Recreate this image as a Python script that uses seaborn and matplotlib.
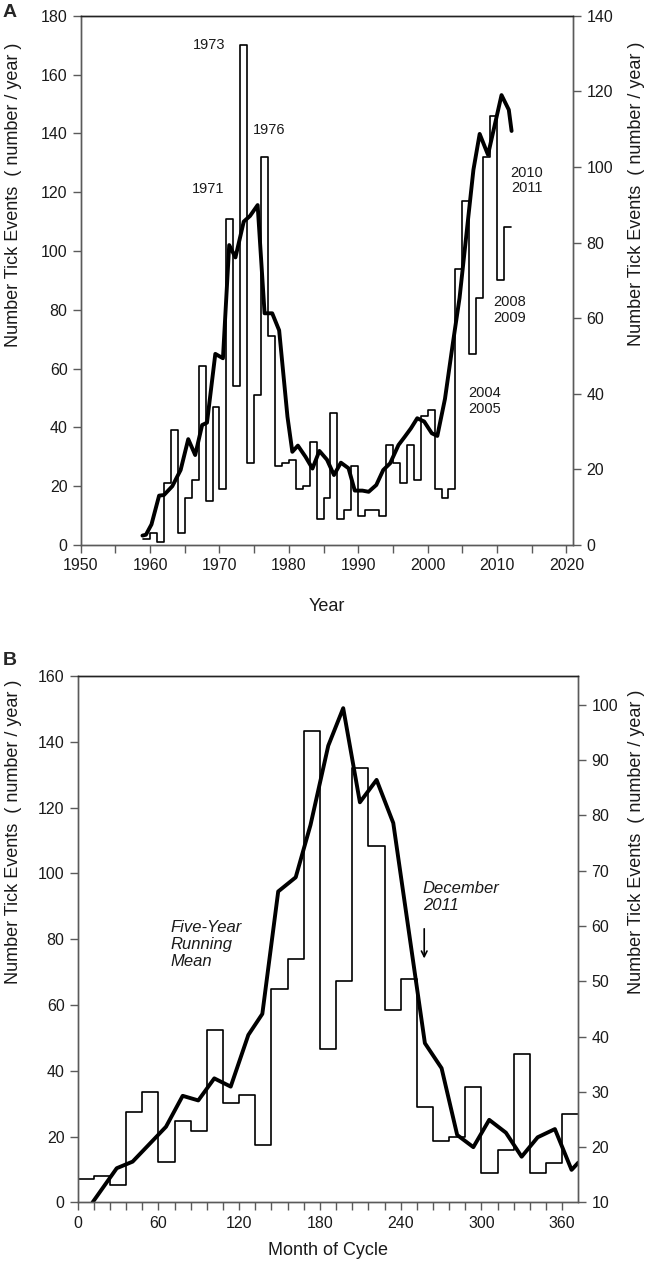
import numpy as np
import pandas as pd
import matplotlib
matplotlib.use('Agg')
import matplotlib.pyplot as plt
import seaborn as sns

# ---- Panel A: yearly tick events and running mean ----
years_a = list(range(1959, 2012))
counts_a = [2, 4, 1, 21, 39, 4, 16, 22, 61, 15, 47, 19,
            111, 54, 170, 28, 51, 132, 71, 27, 28, 29,
            19, 20, 35, 9, 16, 45, 9, 12, 27, 10,
            12, 12, 10, 34, 28, 21, 34, 22, 44, 46,
            19, 16, 19, 94, 117, 65, 84, 132, 146, 90, 108]

mean_years_a = [1958.9, 1959.4, 1960.2, 1961.3, 1962.0, 1963.2, 1964.4, 1965.5, 1966.5,
                1967.5, 1968.2, 1969.4, 1970.5, 1971.4, 1972.3, 1973.5, 1974.4, 1975.5,
                1976.5, 1977.6, 1978.6, 1979.8, 1980.5, 1981.3, 1982.4, 1983.4, 1984.4,
                1985.5, 1986.5, 1987.5, 1988.6, 1989.5, 1990.6, 1991.5, 1992.6, 1993.6,
                1994.6, 1995.8, 1996.7, 1997.6, 1998.5, 1999.5, 2000.6, 2001.4, 2002.5,
                2003.6, 2004.6, 2005.7, 2006.6, 2007.5, 2008.7, 2010.65, 2011.7, 2012.1]
mean_vals_a = [3.2, 3.5, 7, 16.8, 17, 20, 25.5, 36, 30.6,
               40.8, 41.6, 65, 63.5, 102, 97.8, 110, 111.9, 115.6,
               78.8, 78.8, 73, 43.6, 31.7, 33.8, 30, 26, 32,
               29, 23.8, 28, 26.1, 18.5, 18.5, 18.1, 20.4, 25.5,
               27.8, 34, 36.8, 39.7, 43.1, 42, 38, 37.1, 49.7,
               68, 84, 108, 127.6, 139.8, 132.7, 153, 148, 140.8]

labels_a = ['1973', '1976', '1971', '2010\n2011', '2008\n2009', '2004\n2005']
label_pos_a = [(1968.5, 170), (1977.2, 141), (1968.4, 121),
               (2014.3, 124), (2011.8, 80), (2008.2, 49)]

# ---- Panel B: month of cycle ----
months_b = list(range(0, 372, 12))
counts_b = [7.0, 8.1, 5.3, 27.4, 33.5, 12.4, 24.9, 21.8, 52.4, 30.3, 32.5,
            17.5, 64.9, 73.9, 143.4, 46.6, 67.4, 132.0, 108.4, 58.5, 67.8,
            28.9, 18.8, 20.0, 35.0, 8.9, 16.0, 45.0, 8.9, 11.9, 26.9]

mean_months_b = [11, 29, 40.8, 65.6, 78, 89.6, 101.5, 113.7, 126.8, 137.2, 149, 162,
                 173, 186.2, 197.3, 209.7, 222.1, 234.5, 258, 270.4, 282, 294,
                 305.8, 318.2, 329.9, 341.8, 354.6, 367, 372]
mean_vals_b = [0, 10.4, 12.4, 23, 32.4, 31, 37.7, 35.2, 50.9, 57.3, 94.5, 98.8,
               114.7, 138.8, 150.2, 121.6, 128.4, 115.3, 48.4, 40.8, 20.5, 16.8,
               25.1, 21.2, 13.9, 19.8, 22.3, 9.9, 12.1]

sns.set_style('ticks')
plt.rcParams['font.family'] = ['Liberation Sans', 'DejaVu Sans']

ylabel = 'Number Tick Events  ( number / year )'
axis_col = '#5a5a5a'
text_col = '#1a1a1a'

fig = plt.figure(figsize=(6.53, 12.66), dpi=100)
axA = fig.add_axes([0.1236, 0.5695, 0.7544, 0.4181])
axB = fig.add_axes([0.1190, 0.0502, 0.7666, 0.4159])


def style_axes(ax, ax2):
    for a in (ax, ax2):
        for s in a.spines.values():
            s.set_color(axis_col)
            s.set_linewidth(1.0)
        a.spines['top'].set_color('#222222')
        a.tick_params(which='both', direction='out', length=6, width=1.0,
                      color=axis_col, labelsize=11.5, labelcolor=text_col)
    ax.tick_params(axis='y', which='both', right=False)
    ax2.tick_params(axis='y', which='both', left=False)


# Panel A
sns.lineplot(x=years_a + [2012], y=counts_a + [counts_a[-1]], ax=axA, color='black',
             linewidth=1.2, drawstyle='steps-post', estimator=None, sort=False, legend=False)
sns.lineplot(x=mean_years_a, y=mean_vals_a, ax=axA, color='black', linewidth=2.8,
             estimator=None, sort=False, legend=False)
axA.set_xlim(1950, 2021)
axA.set_ylim(0, 180)
axA.set_xticks(range(1950, 2021, 10))
axA.set_xticks(range(1955, 2021, 10), minor=True)
axA.set_yticks(range(0, 181, 20))
axA.set_xlabel('Year', fontsize=13, color=text_col)
axA.set_ylabel(ylabel, fontsize=13, color=text_col)
axA.xaxis.set_label_coords(0.5, -0.100)
axA.yaxis.set_label_coords(-0.119, 0.661)
for lab, (lx, ly) in zip(labels_a, label_pos_a):
    axA.text(lx, ly, lab, fontsize=10.5, ha='center', va='center', color=text_col,
             linespacing=1.15)
axA2 = axA.twinx()
axA2.set_ylim(0, 140)
axA2.set_yticks(range(0, 141, 20))
axA2.set_ylabel(ylabel, fontsize=13, color=text_col, rotation=90)
axA2.yaxis.set_label_coords(1.111, 0.664)
style_axes(axA, axA2)

# Panel B
sns.lineplot(x=months_b + [372], y=counts_b + [counts_b[-1]], ax=axB, color='black',
             linewidth=1.2, drawstyle='steps-post', estimator=None, sort=False, legend=False)
sns.lineplot(x=mean_months_b, y=mean_vals_b, ax=axB, color='black', linewidth=2.8,
             estimator=None, sort=False, legend=False)
axB.set_xlim(0, 372)
axB.set_ylim(0, 160)
axB.set_xticks(range(0, 361, 60))
axB.set_xticks(range(12, 372, 12), minor=True)
axB.set_yticks(range(0, 161, 20))
axB.set_xlabel('Month of Cycle', fontsize=13, color=text_col)
axB.set_ylabel(ylabel, fontsize=13, color=text_col)
axB.xaxis.set_label_coords(0.5, -0.075)
axB.yaxis.set_label_coords(-0.111, 0.703)
axB.text(69.3, 78.3, 'Five-Year\nRunning\nMean', fontsize=12, style='italic',
         ha='left', va='center', color=text_col, linespacing=1.15)
axB.text(256.5, 92.9, 'December\n2011', fontsize=12, style='italic',
         ha='left', va='center', color=text_col, linespacing=1.15)
axB.annotate('', xy=(257.5, 73.3), xytext=(257.5, 84.0),
             arrowprops=dict(arrowstyle='->', color='black', lw=1.2))
axB2 = axB.twinx()
axB2.set_ylim(10, 105.2)
axB2.set_yticks(range(10, 101, 10))
axB2.set_ylabel(ylabel, fontsize=13, color=text_col, rotation=90)
axB2.yaxis.set_label_coords(1.099, 0.684)
style_axes(axB, axB2)

fig.text(0.004, 0.990, 'A', fontsize=14, fontweight='bold', ha='left', va='center')
fig.text(0.004, 0.478, 'B', fontsize=14, fontweight='bold', ha='left', va='center')

fig.savefig('out.png', dpi=100)
